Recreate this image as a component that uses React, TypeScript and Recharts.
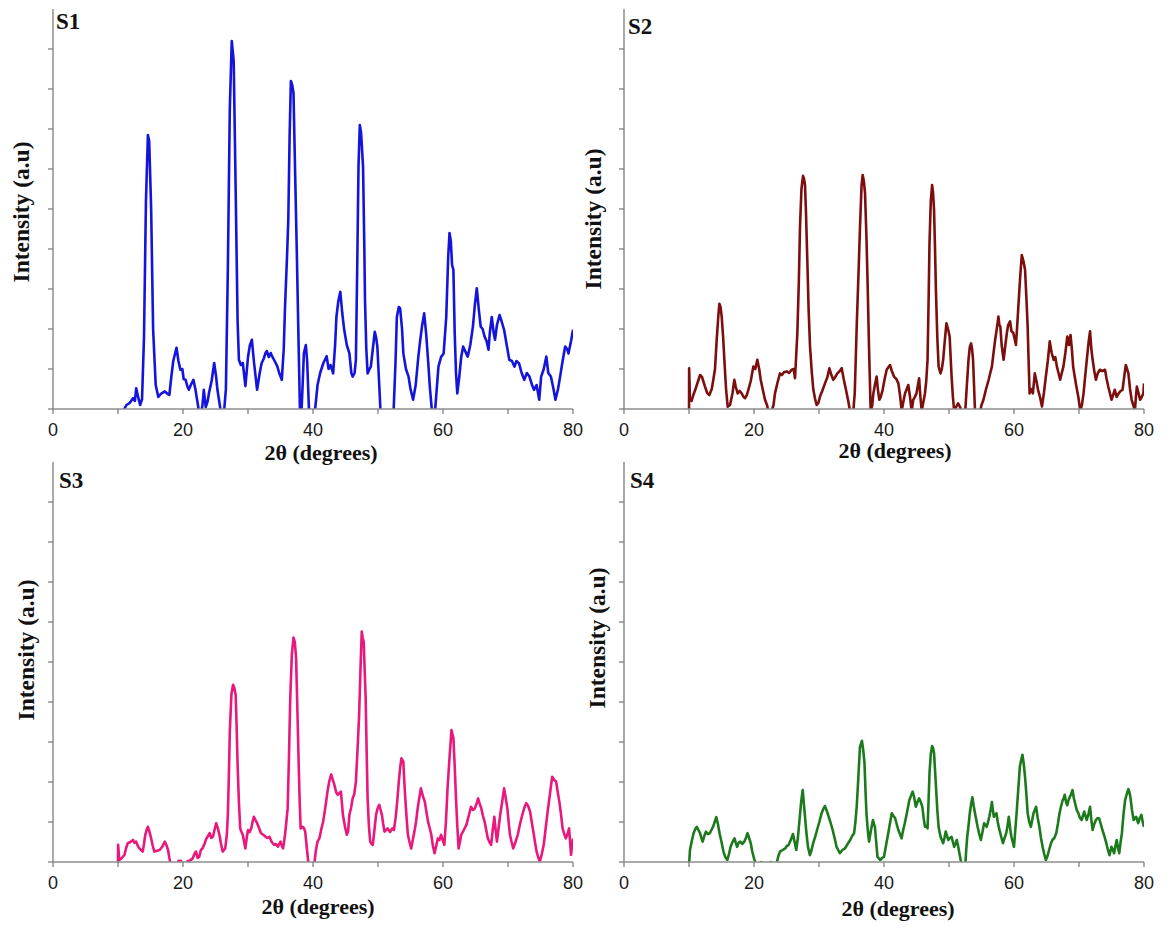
import React from 'react';
import { LineChart, Line, XAxis, YAxis, Label } from 'recharts';

type Pt = [number, number];

const X_TICKS = [0, 10, 20, 30, 40, 50, 60, 70, 80];
const Y_TICKS = [0, 1, 2, 3, 4, 5, 6, 7, 8, 9];
const X_TITLE = '2θ (degrees)';
const Y_TITLE = 'Intensity (a.u)';
const PANEL_NAMES = ['S1', 'S2', 'S3', 'S4'];
const COLORS = ['#1414dc', '#7c0e0e', '#e8187c', '#1c7a1c'];

const S1: Pt[] = [
  [10.0, -0.4], [10.8, -0.05], [11.3, 0.1], [11.8, 0.15], [12.3, 0.27], [12.6, 0.2], [12.8, 0.52], [13.1, 0.3], [13.4, 0.1], [13.7, 0.25],
  [14.0, 1.8], [14.3, 5.2], [14.6, 6.85], [14.8, 6.7], [15.1, 5.0], [15.4, 2.0], [15.8, 0.6], [16.2, 0.3], [16.6, 0.38], [17.2, 0.44],
  [17.6, 0.38], [17.9, 0.35], [18.2, 0.8], [18.5, 1.2], [19.0, 1.53], [19.3, 1.2], [19.6, 0.98], [19.9, 1.0], [20.1, 0.75], [20.4, 0.73],
  [20.7, 0.55], [20.9, 0.48], [21.2, 0.6], [21.6, 0.73], [21.9, 0.5], [22.2, 0.2], [22.4, 0.0], [22.7, -0.2], [23.0, 0.1], [23.2, 0.48],
  [23.5, 0.05], [23.8, 0.2], [24.0, 0.4], [24.4, 0.7], [24.8, 1.15], [25.1, 0.8], [25.3, 0.48], [25.8, -0.05], [26.2, -0.3], [26.6, 0.5],
  [26.9, 3.5], [27.2, 7.5], [27.5, 9.2], [27.8, 8.7], [28.1, 5.5], [28.4, 2.2], [28.6, 1.23], [28.9, 1.1], [29.2, 1.15], [29.6, 0.57],
  [30.0, 1.3], [30.3, 1.6], [30.6, 1.73], [30.9, 1.2], [31.4, 0.48], [31.8, 0.9], [32.1, 1.15], [32.4, 1.25], [32.7, 1.4], [32.9, 1.45],
  [33.2, 1.3], [33.5, 1.4], [33.7, 1.32], [34.1, 1.2], [34.5, 1.07], [34.8, 0.9], [35.2, 0.73], [35.5, 1.5], [35.7, 2.57], [36.0, 3.8],
  [36.2, 4.73], [36.4, 6.8], [36.6, 8.2], [36.8, 8.1], [37.0, 7.9], [37.2, 6.3], [37.5, 4.0], [37.8, 1.5], [38.0, -0.1], [38.2, -0.2],
  [38.4, 0.6], [38.6, 1.4], [38.9, 1.6], [39.1, 1.2], [39.4, -0.1], [39.8, -0.5], [40.3, -0.05], [40.7, 0.6], [41.1, 0.9], [41.6, 1.15],
  [42.1, 1.32], [42.4, 1.0], [42.7, 1.1], [43.1, 0.89], [43.4, 1.6], [43.6, 2.3], [43.9, 2.7], [44.2, 2.93], [44.5, 2.4], [44.8, 1.98],
  [45.2, 1.6], [45.6, 1.39], [45.9, 0.9], [46.1, 0.81], [46.4, 0.9], [46.6, 1.23], [46.8, 3.5], [47.0, 6.06], [47.2, 7.1], [47.4, 6.9],
  [47.7, 6.06], [47.9, 4.0], [48.0, 2.73], [48.2, 1.5], [48.4, 0.89], [48.7, 1.0], [48.9, 1.06], [49.2, 1.5], [49.5, 1.93], [49.7, 1.8],
  [49.9, 1.56], [50.1, 0.9], [50.4, -0.1], [51.0, -0.6], [51.8, -0.4], [52.4, -0.05], [52.7, 1.2], [52.9, 2.3], [53.2, 2.55], [53.4, 2.52],
  [53.7, 2.0], [53.9, 1.39], [54.3, 1.0], [54.7, 0.81], [55.0, 0.5], [55.4, 0.23], [55.8, 0.6], [56.2, 1.3], [56.5, 1.73], [56.8, 2.1],
  [57.1, 2.39], [57.4, 1.9], [57.7, 1.23], [58.0, 0.5], [58.3, -0.05], [58.6, -0.2], [58.8, 0.0], [59.3, 1.06], [59.7, 1.3], [60.1, 1.39],
  [60.5, 2.3], [60.8, 3.8], [61.0, 4.4], [61.2, 4.2], [61.4, 3.6], [61.6, 3.48], [61.8, 1.9], [62.0, 0.9], [62.2, 0.39], [62.5, 0.8],
  [62.8, 1.3], [63.1, 1.56], [63.4, 1.45], [63.8, 1.31], [64.2, 1.6], [64.6, 2.06], [64.9, 2.6], [65.2, 3.02], [65.5, 2.5], [65.8, 2.06],
  [66.1, 2.0], [66.4, 1.81], [66.7, 1.7], [67.0, 1.48], [67.2, 1.9], [67.5, 2.3], [67.8, 1.9], [68.0, 1.73], [68.3, 2.1], [68.7, 2.35],
  [69.0, 2.2], [69.4, 1.98], [69.8, 1.6], [70.2, 1.23], [70.6, 1.2], [71.0, 1.06], [71.3, 1.2], [71.7, 1.14], [72.1, 0.9], [72.5, 0.73],
  [72.9, 0.9], [73.3, 0.81], [73.7, 0.6], [74.0, 0.48], [74.4, 0.6], [74.8, 0.23], [75.1, 0.81], [75.5, 1.0], [75.9, 1.31], [76.2, 0.9],
  [76.6, 0.81], [77.0, 0.5], [77.3, 0.23], [77.7, 0.5], [78.1, 0.89], [78.4, 1.2], [78.8, 1.56], [79.1, 1.5], [79.3, 1.39], [79.7, 1.7],
  [80.0, 1.98],
];

const S2: Pt[] = [
  [10.0, -0.2], [10.02, 1.02], [10.15, 0.25], [10.4, 0.2], [10.67, 0.35], [11.0, 0.5], [11.4, 0.7], [11.7, 0.85], [12.0, 0.8], [12.46, 0.56],
  [12.8, 0.4], [13.13, 0.35], [13.5, 0.5], [13.74, 0.73], [14.0, 1.0], [14.26, 1.73], [14.5, 2.3], [14.67, 2.63], [14.85, 2.55], [15.03, 2.31],
  [15.25, 1.8], [15.44, 1.23], [15.7, 0.5], [15.95, 0.06], [16.31, 0.1], [16.7, 0.4], [16.97, 0.73], [17.2, 0.55], [17.49, 0.39], [17.8, 0.45],
  [18.1, 0.39], [18.4, 0.3], [18.62, 0.27], [18.9, 0.35], [19.13, 0.48], [19.5, 0.7], [19.9, 1.06], [20.2, 1.0], [20.51, 1.23], [20.8, 1.0],
  [21.03, 0.73], [21.4, 0.45], [21.69, 0.23], [22.0, 0.1], [22.2, -0.05], [22.72, -0.05], [23.0, 0.1], [23.23, 0.39], [23.6, 0.65], [24.0, 0.89],
  [24.3, 0.85], [24.6, 0.92], [25.03, 0.94], [25.4, 0.9], [25.8, 0.98], [26.1, 1.0], [26.31, 0.77], [26.67, 1.9], [26.9, 3.2], [27.08, 4.56],
  [27.3, 5.5], [27.54, 5.83], [27.7, 5.75], [27.85, 5.6], [28.0, 4.9], [28.2, 3.73], [28.4, 2.5], [28.62, 1.56], [28.9, 0.9], [29.13, 0.48],
  [29.4, 0.25], [29.64, 0.1], [29.9, 0.15], [30.15, 0.31], [30.5, 0.45], [30.92, 0.64], [31.3, 0.8], [31.59, 1.02], [31.9, 0.85], [32.2, 0.73],
  [32.5, 0.8], [32.82, 0.89], [33.2, 0.95], [33.49, 1.02], [33.8, 0.75], [34.15, 0.48], [34.5, 0.2], [34.77, -0.05], [35.28, -0.05], [35.5, 0.4],
  [35.8, 2.06], [36.1, 3.5], [36.31, 4.56], [36.55, 5.6], [36.72, 5.85], [36.9, 5.7], [37.08, 5.4], [37.3, 4.3], [37.49, 3.06], [37.7, 1.5],
  [37.95, -0.05], [38.2, 0.1], [38.36, 0.39], [38.6, 0.6], [38.87, 0.81], [39.05, 0.5], [39.28, 0.23], [39.5, 0.3], [39.79, 0.48], [40.1, 0.75],
  [40.41, 0.98], [40.7, 1.05], [40.92, 1.1], [41.2, 0.95], [41.54, 0.81], [41.9, 0.75], [42.21, 0.64], [42.5, 0.3], [42.72, -0.05], [43.0, 0.2],
  [43.23, 0.39], [43.5, 0.5], [43.74, 0.6], [44.0, 0.3], [44.26, -0.05], [44.5, 0.23], [44.77, 0.31], [45.0, 0.39], [45.4, 0.77], [45.6, 0.3],
  [45.8, -0.05], [46.3, 0.39], [46.5, 0.7], [46.7, 1.23], [46.85, 2.6], [47.0, 4.14], [47.2, 5.2], [47.4, 5.6], [47.55, 5.4], [47.7, 4.98],
  [47.85, 4.0], [48.0, 2.89], [48.2, 1.8], [48.4, 1.06], [48.7, 0.89], [48.9, 1.0], [49.1, 1.23], [49.35, 1.7], [49.6, 2.14], [49.85, 2.0],
  [50.1, 1.81], [50.25, 1.3], [50.4, 0.81], [50.6, 0.3], [50.8, -0.05], [51.1, 0.05], [51.4, 0.14], [51.7, 0.05], [51.9, -0.05], [52.5, -0.05],
  [52.75, 0.6], [53.0, 1.23], [53.2, 1.55], [53.4, 1.64], [53.55, 1.5], [53.7, 1.23], [53.85, 0.6], [54.0, -0.05], [54.8, -0.05], [55.0, 0.1],
  [55.3, 0.23], [55.7, 0.5], [56.1, 0.73], [56.35, 0.9], [56.6, 1.06], [56.85, 1.4], [57.1, 1.73], [57.35, 2.0], [57.6, 2.31], [57.75, 2.1],
  [57.9, 2.06], [58.1, 1.6], [58.4, 1.23], [58.6, 1.5], [58.9, 1.9], [59.1, 2.1], [59.4, 2.19], [59.6, 1.95], [59.9, 1.9], [60.1, 1.75],
  [60.3, 1.6], [60.5, 2.1], [60.7, 2.64], [60.95, 3.3], [61.2, 3.85], [61.45, 3.7], [61.7, 3.48], [61.9, 2.8], [62.1, 2.06], [62.25, 1.2],
  [62.4, 0.39], [62.65, 0.5], [62.9, 0.39], [63.2, 0.89], [63.45, 0.7], [63.7, 0.48], [64.0, 0.3], [64.3, 0.06], [64.6, 0.4], [64.9, 0.81],
  [65.2, 1.2], [65.5, 1.69], [65.8, 1.4], [66.1, 1.23], [66.35, 1.3], [66.6, 1.06], [66.85, 0.9], [67.1, 0.73], [67.35, 0.9], [67.6, 1.06],
  [67.9, 1.4], [68.2, 1.81], [68.45, 1.6], [68.7, 1.85], [68.9, 1.5], [69.1, 1.06], [69.35, 0.8], [69.6, 0.56], [69.9, 0.3], [70.2, -0.05],
  [70.45, 0.1], [70.7, 0.39], [71.0, 0.9], [71.3, 1.39], [71.5, 1.7], [71.7, 1.94], [71.9, 1.5], [72.1, 1.23], [72.35, 0.95], [72.6, 0.73],
  [72.9, 0.9], [73.2, 0.98], [73.6, 0.95], [74.0, 0.98], [74.25, 0.75], [74.5, 0.56], [74.75, 0.4], [75.0, 0.23], [75.25, 0.35], [75.5, 0.48],
  [75.8, 0.3], [76.1, 0.39], [76.4, 0.45], [76.7, 0.48], [76.95, 0.8], [77.2, 1.1], [77.4, 1.0], [77.6, 0.89], [77.85, 0.5], [78.1, 0.23],
  [78.35, 0.1], [78.6, -0.05], [78.75, 0.3], [78.9, 0.56], [79.15, 0.4], [79.4, 0.23], [79.65, 0.3], [79.9, 0.39], [80.0, 0.64],
];

const S3: Pt[] = [
  [10.0, -0.1], [10.02, 0.43], [10.2, 0.05], [10.6, 0.1], [11.0, 0.18], [11.25, 0.35], [11.5, 0.47], [11.9, 0.5], [12.3, 0.55], [12.55, 0.48],
  [12.8, 0.51], [13.05, 0.4], [13.3, 0.34], [13.55, 0.3], [13.8, 0.26], [14.0, 0.45], [14.2, 0.68], [14.4, 0.8], [14.6, 0.88], [14.85, 0.75],
  [15.1, 0.59], [15.35, 0.4], [15.6, 0.26], [16.0, 0.28], [16.4, 0.3], [16.8, 0.38], [17.2, 0.51], [17.45, 0.42], [17.7, 0.3], [17.9, 0.1],
  [18.1, -0.05], [18.8, -0.3], [19.3, 0.03], [19.5, 0.02], [19.7, 0.03], [20.0, -0.2], [20.7, 0.02], [21.1, 0.04], [21.5, 0.09], [21.75, 0.2],
  [22.0, 0.26], [22.25, 0.1], [22.5, 0.13], [22.75, 0.3], [23.0, 0.34], [23.3, 0.45], [23.6, 0.59], [23.85, 0.65], [24.1, 0.72], [24.35, 0.6],
  [24.6, 0.63], [24.85, 0.8], [25.1, 0.97], [25.35, 0.85], [25.6, 0.68], [25.85, 0.45], [26.1, 0.26], [26.5, 0.34], [26.75, 0.7], [26.9, 1.18],
  [27.05, 2.1], [27.2, 3.26], [27.45, 4.2], [27.7, 4.43], [27.9, 4.35], [28.1, 4.18], [28.25, 3.4], [28.4, 2.43], [28.6, 1.5], [28.8, 0.84],
  [29.0, 0.75], [29.2, 0.68], [29.4, 0.5], [29.6, 0.34], [29.8, 0.6], [30.0, 0.8], [30.25, 0.75], [30.5, 0.84], [30.7, 1.0], [30.9, 1.13],
  [31.15, 1.05], [31.4, 0.97], [31.7, 0.85], [32.0, 0.72], [32.35, 0.68], [32.7, 0.63], [33.0, 0.6], [33.3, 0.63], [33.65, 0.5], [34.0, 0.43],
  [34.3, 0.45], [34.6, 0.38], [34.8, 0.45], [35.0, 0.51], [35.2, 0.4], [35.4, 0.34], [35.7, 0.68], [35.9, 1.0], [36.1, 1.34], [36.3, 2.6],
  [36.5, 4.1], [36.75, 5.2], [37.0, 5.61], [37.2, 5.5], [37.4, 5.09], [37.6, 3.8], [37.8, 2.43], [37.95, 1.5], [38.1, 0.84], [38.4, 0.88],
  [38.6, 0.85], [38.8, 0.76], [39.05, 0.35], [39.3, -0.05], [39.8, -0.3], [40.2, -0.05], [40.45, 0.3], [40.7, 0.51], [41.0, 0.6], [41.3, 0.84],
  [41.55, 1.0], [41.8, 1.26], [42.05, 1.55], [42.3, 1.84], [42.55, 2.05], [42.8, 2.19], [43.05, 2.05], [43.3, 1.92], [43.55, 1.75], [43.8, 1.68],
  [44.05, 1.72], [44.3, 1.76], [44.6, 1.18], [44.9, 0.9], [45.2, 0.68], [45.4, 0.76], [45.6, 1.18], [45.85, 1.35], [46.1, 1.59], [46.35, 1.7],
  [46.6, 2.01], [46.85, 2.8], [47.1, 3.68], [47.3, 4.8], [47.5, 5.76], [47.65, 5.6], [47.8, 5.51], [47.95, 4.8], [48.1, 4.1], [48.25, 2.8],
  [48.4, 1.59], [48.6, 0.9], [48.8, 0.51], [49.0, 0.45], [49.2, 0.43], [49.45, 0.8], [49.7, 1.18], [49.95, 1.35], [50.2, 1.43], [50.4, 1.3],
  [50.6, 1.18], [50.8, 0.95], [51.0, 0.76], [51.25, 0.8], [51.5, 0.84], [51.85, 0.75], [52.2, 0.84], [52.45, 0.8], [52.7, 1.09], [52.95, 1.5],
  [53.2, 2.01], [53.4, 2.35], [53.6, 2.59], [53.75, 2.55], [53.9, 2.51], [54.05, 2.0], [54.2, 1.59], [54.4, 1.1], [54.6, 0.68], [54.85, 0.5],
  [55.1, 0.34], [55.35, 0.55], [55.6, 0.76], [55.85, 1.0], [56.1, 1.34], [56.35, 1.6], [56.6, 1.84], [56.9, 1.65], [57.2, 1.51], [57.45, 1.25],
  [57.7, 1.01], [57.95, 0.85], [58.2, 0.68], [58.45, 0.4], [58.7, 0.22], [58.95, 0.4], [59.2, 0.59], [59.45, 0.55], [59.7, 0.68], [59.95, 0.55],
  [60.2, 0.43], [60.45, 1.0], [60.7, 1.84], [61.0, 2.6], [61.3, 3.3], [61.45, 3.2], [61.6, 3.1], [61.8, 2.4], [62.0, 1.59], [62.2, 0.9],
  [62.4, 0.34], [62.6, 0.5], [62.8, 0.68], [63.2, 0.8], [63.6, 0.93], [63.95, 1.15], [64.3, 1.38], [64.6, 1.3], [64.9, 1.34], [65.15, 1.45],
  [65.4, 1.59], [65.65, 1.45], [65.9, 1.34], [66.15, 1.15], [66.4, 1.01], [66.65, 0.8], [66.9, 0.59], [67.15, 0.5], [67.4, 0.43], [67.65, 0.8],
  [67.9, 1.13], [68.1, 0.8], [68.3, 0.51], [68.55, 0.85], [68.8, 1.18], [69.1, 1.5], [69.4, 1.84], [69.65, 1.6], [69.9, 1.34], [70.1, 1.0],
  [70.3, 0.68], [70.55, 0.5], [70.8, 0.34], [71.15, 0.5], [71.5, 0.68], [71.85, 0.95], [72.2, 1.18], [72.5, 1.35], [72.8, 1.47], [73.1, 1.4],
  [73.4, 1.26], [73.65, 1.0], [73.9, 0.76], [74.15, 0.5], [74.4, 0.26], [74.65, 0.12], [74.9, 0.01], [75.2, 0.2], [75.5, 0.43], [75.8, 0.85],
  [76.1, 1.26], [76.45, 1.7], [76.8, 2.13], [77.1, 2.05], [77.4, 2.01], [77.65, 1.75], [77.9, 1.51], [78.15, 1.2], [78.4, 0.84], [78.65, 0.7],
  [78.9, 0.59], [79.15, 0.7], [79.4, 0.84], [79.55, 0.5], [79.7, 0.18], [79.85, 0.4], [80.0, 0.59],
];

const S4: Pt[] = [
  [10.0, -0.1], [10.15, 0.3], [10.4, 0.5], [10.7, 0.72], [10.95, 0.82], [11.2, 0.88], [11.45, 0.8], [11.7, 0.72], [11.9, 0.6], [12.1, 0.51],
  [12.35, 0.65], [12.6, 0.76], [12.9, 0.7], [13.2, 0.72], [13.45, 0.8], [13.7, 0.88], [13.95, 1.0], [14.2, 1.12], [14.45, 0.95], [14.7, 0.72],
  [15.0, 0.5], [15.3, 0.26], [15.6, 0.12], [15.9, 0.05], [16.15, 0.2], [16.4, 0.38], [16.7, 0.5], [17.0, 0.59], [17.2, 0.48], [17.4, 0.38],
  [17.65, 0.48], [17.9, 0.51], [18.2, 0.45], [18.5, 0.51], [18.75, 0.6], [19.0, 0.72], [19.25, 0.6], [19.5, 0.47], [19.75, 0.25], [20.0, 0.09],
  [20.3, -0.05], [20.8, -0.2], [21.1, 0.0], [21.3, -0.3], [22.6, 0.0], [22.8, -0.2], [23.5, -0.02], [23.75, 0.15], [24.0, 0.26], [24.4, 0.3],
  [24.8, 0.34], [25.05, 0.4], [25.3, 0.42], [25.65, 0.55], [26.0, 0.7], [26.25, 0.5], [26.5, 0.3], [26.75, 0.6], [27.0, 1.05], [27.25, 1.5],
  [27.5, 1.8], [27.65, 1.5], [27.8, 1.22], [28.05, 0.75], [28.3, 0.38], [28.6, 0.17], [28.85, 0.3], [29.1, 0.47], [29.4, 0.62], [29.7, 0.8],
  [30.05, 1.0], [30.4, 1.22], [30.65, 1.32], [30.9, 1.4], [31.15, 1.3], [31.4, 1.18], [31.75, 1.0], [32.1, 0.8], [32.4, 0.6], [32.7, 0.38],
  [32.95, 0.3], [33.2, 0.22], [33.6, 0.3], [34.0, 0.34], [34.4, 0.45], [34.8, 0.55], [35.1, 0.65], [35.4, 0.72], [35.6, 1.0], [35.8, 1.38],
  [36.05, 2.1], [36.3, 2.88], [36.6, 3.03], [36.8, 2.8], [37.0, 2.47], [37.15, 1.8], [37.3, 1.22], [37.5, 0.8], [37.7, 0.51], [38.0, 0.8],
  [38.3, 1.05], [38.6, 0.88], [38.8, 0.5], [39.0, 0.13], [39.4, 0.05], [39.7, 0.1], [40.0, 0.13], [40.35, 0.45], [40.7, 0.76], [40.95, 1.0],
  [41.2, 1.22], [41.45, 1.15], [41.7, 1.1], [41.95, 0.95], [42.2, 0.8], [42.45, 0.7], [42.7, 0.59], [42.95, 0.8], [43.2, 0.97], [43.55, 1.25],
  [43.9, 1.55], [44.15, 1.65], [44.4, 1.76], [44.6, 1.65], [44.9, 1.38], [45.15, 1.5], [45.4, 1.59], [45.65, 1.5], [45.9, 1.38], [46.1, 1.1],
  [46.3, 0.88], [46.5, 0.9], [46.7, 0.84], [46.85, 1.5], [47.0, 2.22], [47.2, 2.7], [47.4, 2.9], [47.55, 2.85], [47.7, 2.72], [47.85, 2.3],
  [48.0, 1.88], [48.2, 1.3], [48.4, 0.88], [48.55, 0.75], [48.7, 0.63], [48.9, 0.55], [49.1, 0.47], [49.3, 0.6], [49.5, 0.76], [49.7, 0.65],
  [49.9, 0.55], [50.15, 0.6], [50.4, 0.63], [50.6, 0.5], [50.8, 0.38], [51.0, 0.45], [51.2, 0.55], [51.4, 0.4], [51.6, 0.22], [51.8, 0.05],
  [52.0, -0.1], [52.5, -0.1], [52.65, 0.3], [52.8, 0.63], [53.0, 0.9], [53.2, 1.22], [53.4, 1.45], [53.6, 1.62], [53.8, 1.4], [54.0, 1.22],
  [54.2, 1.05], [54.4, 0.88], [54.65, 0.7], [54.9, 0.55], [55.15, 0.75], [55.4, 0.97], [55.6, 0.92], [55.8, 0.88], [56.0, 1.0], [56.2, 1.13],
  [56.4, 1.3], [56.6, 1.5], [56.75, 1.3], [56.9, 1.13], [57.1, 1.18], [57.3, 1.22], [57.5, 1.0], [57.7, 0.84], [58.0, 0.65], [58.3, 0.47],
  [58.55, 0.6], [58.8, 0.72], [59.0, 0.9], [59.2, 1.13], [59.4, 0.85], [59.6, 0.63], [59.8, 0.5], [60.0, 0.38], [60.2, 0.8], [60.4, 1.22],
  [60.65, 1.8], [60.9, 2.38], [61.1, 2.55], [61.3, 2.68], [61.5, 2.45], [61.7, 2.13], [61.9, 1.7], [62.1, 1.22], [62.35, 1.0], [62.6, 0.88],
  [62.8, 1.05], [63.0, 1.22], [63.2, 1.3], [63.4, 1.38], [63.65, 1.1], [63.9, 0.88], [64.15, 0.6], [64.4, 0.38], [64.65, 0.2], [64.9, 0.05],
  [65.15, 0.15], [65.4, 0.3], [65.65, 0.45], [65.9, 0.55], [66.2, 0.6], [66.5, 0.72], [66.75, 0.95], [67.0, 1.22], [67.25, 1.4], [67.5, 1.55],
  [67.65, 1.6], [67.8, 1.68], [68.0, 1.5], [68.2, 1.42], [68.4, 1.55], [68.6, 1.63], [68.8, 1.7], [69.0, 1.8], [69.2, 1.6], [69.4, 1.47],
  [69.65, 1.3], [69.9, 1.22], [70.15, 1.1], [70.4, 1.05], [70.6, 1.15], [70.8, 1.26], [71.0, 1.15], [71.2, 1.05], [71.45, 1.2], [71.7, 1.38],
  [71.9, 1.05], [72.1, 0.8], [72.35, 0.95], [72.6, 1.05], [72.85, 1.1], [73.1, 1.09], [73.35, 0.95], [73.6, 0.8], [73.9, 0.65], [74.2, 0.47],
  [74.45, 0.3], [74.7, 0.17], [74.85, 0.28], [75.0, 0.38], [75.2, 0.3], [75.4, 0.22], [75.6, 0.4], [75.8, 0.55], [76.0, 0.35], [76.2, 0.22],
  [76.4, 0.5], [76.6, 0.72], [76.85, 1.2], [77.1, 1.55], [77.35, 1.7], [77.6, 1.82], [77.75, 1.75], [77.9, 1.63], [78.15, 1.3], [78.4, 1.05],
  [78.6, 1.1], [78.8, 1.13], [78.95, 1.05], [79.1, 0.97], [79.35, 1.1], [79.6, 1.18], [79.8, 1.0], [80.0, 0.88],
];

const SERIES: Pt[][] = [S1, S2, S3, S4];

// Layout (pixels) for each panel: chart position and text anchors, relative to each chart.
const LAYOUT = [
  { left: 0, top: 0, yTitle: [29, 212], xTitle: [321, 460], name: [56, 29] },
  { left: 571, top: 0, yTitle: [30, 219], xTitle: [324, 458], name: [57, 34] },
  { left: 0, top: 453, yTitle: [34, 197], xTitle: [318, 461], name: [59, 35] },
  { left: 571, top: 453, yTitle: [34, 185], xTitle: [327, 463], name: [59, 35] },
];

const CHART_W = 585;
const CHART_H = 470;
const SERIF = '"Liberation Serif", "Times New Roman", Times, serif';
const SANS = '"Liberation Sans", Arial, Helvetica, sans-serif';
const AXIS_GRAY = '#8e8e8e';

function makeText(text: string, x: number, y: number, size: number, rotate: boolean, anchor: 'start' | 'middle') {
  return () => (
    <text
      x={rotate ? 0 : x}
      y={rotate ? 0 : y}
      transform={rotate ? `translate(${x},${y}) rotate(-90)` : undefined}
      textAnchor={anchor}
      fontFamily={SERIF}
      fontWeight="bold"
      fontSize={size}
      fill="#111"
    >
      {text}
    </text>
  );
}

function Panel({ index }: { index: number }) {
  const lay = LAYOUT[index];
  const data = SERIES[index].map(([t, v]) => ({ t, v }));
  return (
    <div style={{ position: 'absolute', left: lay.left, top: lay.top, width: CHART_W, height: CHART_H }}>
      <LineChart width={CHART_W} height={CHART_H} data={data} margin={{ top: 9, right: 12, left: 8, bottom: 31 }}>
        <XAxis
          type="number"
          dataKey="t"
          domain={[0, 80]}
          ticks={X_TICKS}
          interval={0}
          allowDataOverflow
          tickFormatter={(v: number) => (v % 20 === 0 ? String(v) : '')}
          height={30}
          tickSize={5}
          tickMargin={9}
          stroke={AXIS_GRAY}
          axisLine={{ stroke: AXIS_GRAY, strokeWidth: 1.5 }}
          tickLine={{ stroke: '#777', strokeWidth: 1.2 }}
          tick={{ fontSize: 18, fill: '#1a1a1a', fontFamily: SANS }}
        >
          <Label content={makeText(X_TITLE, lay.xTitle[0], lay.xTitle[1], 22, false, 'middle')} />
        </XAxis>
        <YAxis
          type="number"
          domain={[0, 10]}
          ticks={Y_TICKS}
          interval={0}
          allowDataOverflow
          width={45}
          tickFormatter={() => ''}
          tick={{ fontSize: 10, fill: 'none' }}
          tickSize={5}
          tickMargin={2}
          stroke={AXIS_GRAY}
          axisLine={{ stroke: AXIS_GRAY, strokeWidth: 1.5 }}
          tickLine={{ stroke: '#777', strokeWidth: 1.2 }}
        >
          <Label content={makeText(Y_TITLE, lay.yTitle[0], lay.yTitle[1], 23.5, true, 'middle')} />
          <Label content={makeText(PANEL_NAMES[index], lay.name[0], lay.name[1], 23, false, 'start')} />
        </YAxis>
        <Line
          type="linear"
          dataKey="v"
          stroke={COLORS[index]}
          strokeWidth={2.6}
          strokeLinejoin="round"
          dot={false}
          activeDot={false}
          isAnimationActive={false}
        />
      </LineChart>
    </div>
  );
}

export default function App() {
  return (
    <div style={{ position: 'absolute', left: 0, top: 0, width: 1170, height: 927, background: '#fff', overflow: 'hidden' }}>
      {[0, 1, 2, 3].map((i) => (
        <Panel key={i} index={i} />
      ))}
    </div>
  );
}
